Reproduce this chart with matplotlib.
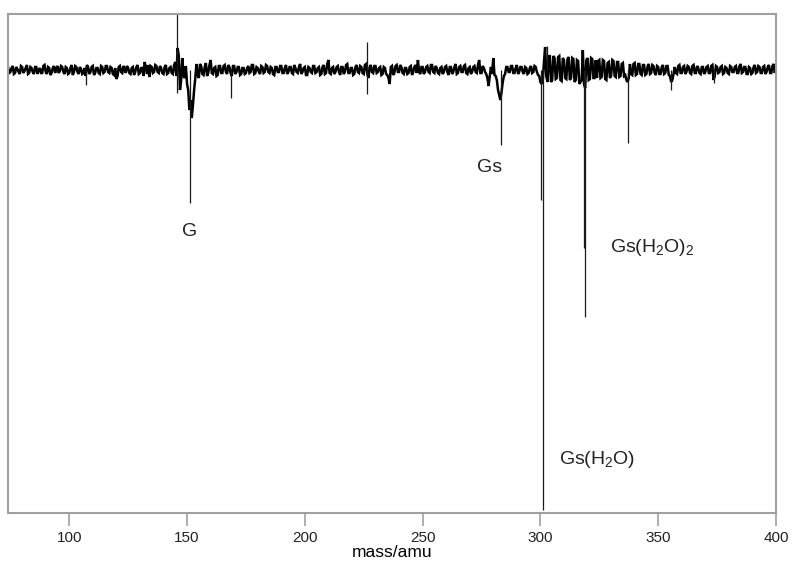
import numpy as np
import matplotlib
matplotlib.use('Agg')
import matplotlib.pyplot as plt

plt.rcParams['font.family'] = ['Liberation Sans', 'DejaVu Sans']
plt.rcParams['mathtext.fontset'] = 'custom'
plt.rcParams['mathtext.rm'] = 'Liberation Sans'
plt.rcParams['mathtext.it'] = 'Liberation Sans'

# baseline trace read at whole amu, 74..400 (arb. units, baseline = 0)
trace_mass = np.arange(74, 401)
trace_signal = [
    3, -2, 4, -3, 1, -4, 3, -1, 5, -3,
    2, -4, 3, 0, -3, 4, -2, 3, -5, 2,
    -3, 4, -1, 3, -4, 2, -3, 5, -2, 3,
    -4, 1, -3, -6, 3, -2, 4, -3, 2, -4,
    3, -2, 4, -3, 2, -5, -9, 3, -2, 4,
    -3, 2, -4, 3, -2, 5, -3, 2, 8, -4,
    -7, 3, -2, 4, -3, 2, -4, 5, -3, 3,
    -4, 8, 22, -20, 12, -8, -14, -40, -48, -20,
    6, -8, 4, -5, 7, -3, 10, -4, 3, -5,
    4, -3, 5, -4, 3, -6, 4, -2, 3, -4,
    2, -3, 4, -2, 5, -3, 2, -4, 3, -2,
    4, -3, 2, -5, 3, -2, 4, -3, 5, -2,
    3, -4, 2, -3, 6, -2, 3, -5, 2, -3,
    4, -2, 3, -4, 5, -3, 10, -4, 3, -2,
    4, -5, 3, -2, 6, -3, 2, -4, 5, -3,
    3, -4, 6, -8, 5, -3, 4, -2, 3, -4,
    2, -5, -14, 4, -3, 5, -2, 3, -4, 2,
    -3, 4, -2, 5, 10, -4, 3, -2, 4, -3,
    5, -3, 2, -4, 3, -2, 4, -5, 3, -2,
    6, -3, 4, -2, 5, -4, 3, -2, 4, -3,
    10, -3, 2, -4, -16, 3, 12, -6, -20, -30,
    -12, -4, 3, -2, 4, -3, 5, -2, 3, -4,
    2, -3, 4, -2, 3, -5, -12, -10, 23, -12,
    15, -10, 12, -8, 14, -11, 10, -9, 13, -8,
    11, -10, 9, -12, 20, -18, 12, -9, 11, -8,
    -8, 10, -7, 9, -10, 8, -6, 9, -7, 8,
    -6, 7, -5, -12, 6, -5, 7, -4, 6, -5,
    5, -4, 6, -3, 4, -5, 3, -4, 5, -3,
    4, -6, -10, 3, -4, 5, -3, 4, -2, 3,
    -4, 5, -3, 2, -4, 3, -2, 4, -3, 5,
    -6, 3, -2, 4, -3, 2, -4, 3, -2, 4,
    -3, 6, -2, 3, -4, 2, -3, 5, -2, 3,
    -3, 4, -2, 5, -3, 6, 2,
]

# same trace read at the half-amu points, 74.5..399.5
trace_mass_half = np.arange(74, 400) + 0.5
trace_signal_half = [
    -3, 2, -4, 3, -2, 4, -3, 2, -4, 3,
    -2, 3, -4, 2, -3, 5, -4, 2, -3, 4,
    2, -3, 4, -2, 3, -4, 2, -5, 4, -2,
    3, -4, 2, 5, -4, 3, -5, 2, -3, 4,
    -3, 4, -2, 3, -4, 2, -6, 4, -3, 2,
    4, -3, 2, -5, 3, -4, 2, -6, 3, 5,
    4, -3, 5, -2, 4, -3, 3, -4, 2, -3,
    5, -6, 14, -10, -6, 4, -20, -30, -35, -8,
    -5, 6, -4, 3, -6, 5, -3, 2, -6, 4,
    -3, 4, -2, 5, -3, 4, -4, 3, -5, 2,
    -4, 2, -3, 5, -4, 3, -2, 4, -3, 5,
    -2, 3, -4, 3, -2, 4, -3, 2, -4, 3,
    -3, 5, -2, 3, -4, 2, -5, 3, -2, 4,
    -3, 2, -5, 3, -4, 6, -3, 2, -4, 3,
    -2, 3, -4, 5, -3, 2, -5, 3, -2, 4,
    -3, 5, -4, 3, -2, 4, -3, 2, -5, 3,
    -4, -8, 3, -5, 4, -2, 5, -3, 2, -4,
    3, -5, 3, -3, -2, 3, -4, 3, -2, 5,
    -2, 4, -3, 2, -4, 3, -2, 3, -4, 3,
    -4, 3, -2, 4, -3, 2, -4, 3, -2, 5,
    -3, 4, -2, -8, -6, -4, -5, -10, -25, -22,
    -6, 3, -2, 4, -3, 2, -4, 3, -2, 3,
    -4, 2, -3, 4, -2, -6, -14, 8, -6, 10,
    -12, 14, -9, 13, -10, 12, -8, 11, -10, 12,
    -12, 10, -14, -10, -14, 10, -10, 12, -8, 10,
    9, -8, 10, -9, 7, -8, 10, -6, 8, -7,
    6, -6, -10, -8, -4, 6, -5, 6, -4, 5,
    -5, 4, -4, 5, -3, 4, -4, 3, -4, 4,
    -5, -12, -4, -3, 4, -3, 3, -4, 4, -3,
    4, -3, 4, -3, 3, -4, 3, -3, 4, -10,
    4, -3, 3, -4, 3, -3, 4, -2, 3, -3,
    4, -3, 3, -4, 3, -4, 3, -3, 4, -3,
    3, -4, 3, -3, 4, -3,
]

# narrow peaks / spikes
peak_mass = [107.0, 145.7, 145.9, 151.2, 168.7, 226.3, 226.4, 283.2,
             300.3, 301.0, 302.6, 318.6, 318.9, 337.2, 355.6, 373.5]
peak_height = [-15, 60, -23, -133, -28, 28, -24, -75,
               -130, -440, 24, -178, -247, -73, -20, -13]

# labels
label_text = ['G', 'Gs', r'Gs(H$_2$O)$_2$', r'Gs(H$_2$O)']
label_mass = [151.2, 278.5, 329.4, 307.8]
label_y = [-162, -98, -177, -390]
label_ha = ['center', 'center', 'left', 'left']

# merge the two readings into one trace
m_all = np.concatenate([trace_mass, trace_mass_half])
s_all = np.concatenate([trace_signal, trace_signal_half])
order = np.argsort(m_all)

fig = plt.figure(figsize=(7.92, 5.64), dpi=100)
ax = fig.add_axes([8 / 792, 1 - 513 / 564, (776 - 8) / 792, (513 - 14) / 564])

ax.plot(m_all[order], s_all[order], color='black', lw=1.8, solid_joinstyle='miter')
ax.vlines(peak_mass, 0, peak_height, color='#1a1a1a', lw=0.9)

for t, m, y, ha in zip(label_text, label_mass, label_y, label_ha):
    ax.text(m, y, t, ha=ha, va='center', fontsize=14, color='#222222')

ax.set_xlim(74, 400)
ax.set_ylim(-443, 56)
ax.set_xticks([100, 150, 200, 250, 300, 350, 400])
ax.set_yticks([])
ax.set_xlabel('mass/amu', fontsize=12.5, labelpad=0)

for s in ax.spines.values():
    s.set_color('#a0a0a0')
    s.set_linewidth(1.5)
ax.tick_params(axis='x', direction='out', length=9, width=1.2, color='#a0a0a0',
               labelsize=11, pad=4, labelcolor='#222222')

fig.savefig('out.png', dpi=100)
